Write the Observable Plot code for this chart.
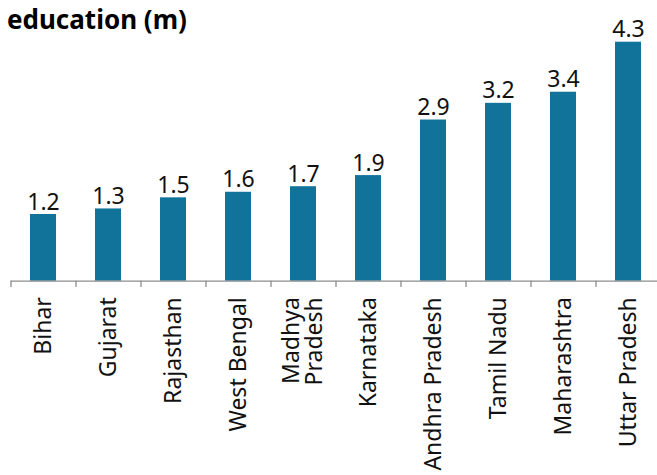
<!DOCTYPE html>
<html>
<head>
<meta charset="utf-8">
<script src="https://cdn.jsdelivr.net/npm/d3@7"></script>
<script src="https://cdn.jsdelivr.net/npm/@observablehq/plot@0.6"></script>
<style>
  html, body { margin: 0; padding: 0; background: #fff; }
  #wrap { position: relative; width: 657px; height: 475px; overflow: hidden; font-family: "Noto Sans", sans-serif; }
  #title { position: absolute; left: 7px; top: 6px; font-weight: bold; font-size: 26px; color: #000; line-height: 1; white-space: nowrap; }
  #chart { position: absolute; left: 0; top: 0; }
</style>
</head>
<body>
<div id="wrap">
  <div id="chart"></div>
  <div id="title">education (m)</div>
</div>
<script>
const states = ["Bihar", "Gujarat", "Rajasthan", "West Bengal", "Madhya\nPradesh", "Karnataka", "Andhra Pradesh", "Tamil Nadu", "Maharashtra", "Uttar Pradesh"];
const values = [1.2, 1.3, 1.5, 1.6, 1.7, 1.9, 2.9, 3.2, 3.4, 4.3];

const data = states.map((s, i) => ({state: s, value: values[i]}));

const chart = Plot.plot({
  width: 657,
  height: 475,
  marginLeft: 10.5,
  marginRight: 0,
  marginTop: 41.7,
  marginBottom: 194.3,
  style: {fontFamily: "Noto Sans, sans-serif", background: "transparent"},
  x: {domain: states, range: [10.5, 660.5], paddingInner: 0.6, paddingOuter: 0.3, align: 0.5},
  y: {domain: [0, 4.3], axis: null},
  marks: [
    Plot.barY(data, {x: "state", y: "value", fill: "#11739a"}),
    Plot.ruleX(states, {x: d => d, y1: 0, y2: -0.115, dx: -32.5, stroke: "#8c8c8c", strokeWidth: 1.3}),
    Plot.ruleY([0], {stroke: "#8c8c8c", strokeWidth: 1.3}),
    Plot.text(data, {x: "state", y: "value", text: d => d.value.toFixed(1), lineAnchor: "bottom", dy: -5, fontSize: 23, fill: "#111"}),
    Plot.axisX({tickSize: 0, tickRotate: -90, tickPadding: 16, fontSize: 23, color: "#111", label: null})
  ]
});
document.getElementById("chart").appendChild(chart);
</script>
</body>
</html>
